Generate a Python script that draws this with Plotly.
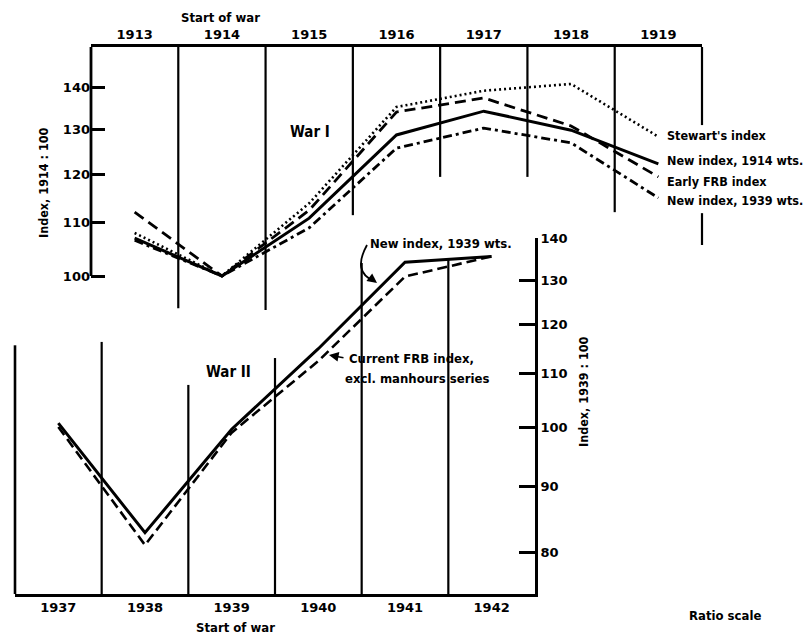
import math
import plotly.graph_objects as go

# ---------------- data ----------------
years_w1 = [1913, 1914, 1915, 1916, 1917, 1918, 1919]
stewart = [108.0, 100.0, 113.9, 135.3, 139.3, 141.0, 128.3]
new_1914_wts = [107.0, 100.0, 110.9, 128.7, 134.3, 129.8, 122.2]
early_frb = [112.1, 100.0, 112.5, 134.1, 137.5, 130.8, 119.4]
new_1939_wts_w1 = [106.6, 100.0, 109.0, 125.7, 130.3, 126.9, 115.0]

years_w2 = [1937, 1938, 1939, 1940, 1941, 1942]
new_1939_wts_w2 = [100.7, 82.8, 99.6, 115.0, 134.2, 135.6]
current_frb = [100.0, 81.0, 99.0, 112.5, 130.8, 135.6]

ticks_w1 = [100, 110, 120, 130, 140]
ticks_w2 = [80, 90, 100, 110, 120, 130, 140]

# ---------------- layout calibration (page pixels) ----------------
W, H = 809, 635
FONT = "DejaVu Sans, sans-serif"
NARROW = "Liberation Sans Narrow, DejaVu Sans Condensed, DejaVu Sans, sans-serif"


def PX(x):
    return x / W


def PY(y):
    return 1 - y / H


# War I panel: x 1912.5..1919.5 -> px 91..702 ; log y: 100 at px 276, 1287 px/decade
W1_L, W1_R, W1_T, W1_B = 91, 702, 47, 310
W1_100, W1_DEC = 276, 1287
w1_yr = [2 + (W1_100 - W1_B) / W1_DEC, 2 + (W1_100 - W1_T) / W1_DEC]
w1_xr = [1912.5, 1919.5]

# War II panel: x 1936.5..1942.5 -> px 15..535 ; log y: 100 at px 427, 1290 px/decade
W2_L, W2_R, W2_T, W2_B = 15, 535, 238, 594
W2_100, W2_DEC = 427, 1290
w2_yr = [2 + (W2_100 - W2_B) / W2_DEC, 2 + (W2_100 - W2_T) / W2_DEC]
w2_xr = [1936.5, 1942.5]


def x1p(v):
    return PX(W1_L + (v - w1_xr[0]) / (w1_xr[1] - w1_xr[0]) * (W1_R - W1_L))


def y1p(v):
    f = (math.log10(v) - w1_yr[0]) / (w1_yr[1] - w1_yr[0])
    return PY(W1_B) + f * (PY(W1_T) - PY(W1_B))


def x2p(v):
    return PX(W2_L + (v - w2_xr[0]) / (w2_xr[1] - w2_xr[0]) * (W2_R - W2_L))


def y2p(v):
    f = (math.log10(v) - w2_yr[0]) / (w2_yr[1] - w2_yr[0])
    return PY(W2_B) + f * (PY(W2_T) - PY(W2_B))


fig = go.Figure()

# War I series
fig.add_trace(go.Scatter(x=years_w1, y=stewart, mode="lines", xaxis="x", yaxis="y",
                         line=dict(color="black", width=2.6, dash="2px,3px"), name="Stewart's index"))
fig.add_trace(go.Scatter(x=years_w1, y=early_frb, mode="lines", xaxis="x", yaxis="y",
                         line=dict(color="black", width=2.8, dash="11px,6px"), name="Early FRB index"))
fig.add_trace(go.Scatter(x=years_w1, y=new_1914_wts, mode="lines", xaxis="x", yaxis="y",
                         line=dict(color="black", width=3), name="New index, 1914 wts."))
fig.add_trace(go.Scatter(x=years_w1, y=new_1939_wts_w1, mode="lines", xaxis="x", yaxis="y",
                         line=dict(color="black", width=2.8, dash="9px,4px,3px,4px"),
                         name="New index, 1939 wts."))

# War II series
fig.add_trace(go.Scatter(x=years_w2, y=new_1939_wts_w2, mode="lines", xaxis="x2", yaxis="y2",
                         line=dict(color="black", width=3), name="New index, 1939 wts."))
fig.add_trace(go.Scatter(x=years_w2, y=current_frb, mode="lines", xaxis="x2", yaxis="y2",
                         line=dict(color="black", width=2.6, dash="10px,5px"),
                         name="Current FRB index, excl. manhours series"))

shapes = []


def vline(x, y0, y1, w=2.2):
    shapes.append(dict(type="line", xref="paper", yref="paper", x0=x, x1=x, y0=y0, y1=y1,
                       line=dict(color="black", width=w)))


# War I frame
vline(x1p(1912.5), y1p(100), PY(W1_T), 2.8)  # left spine ending at 100
w1_sep_bottoms = [94.4, 94.1, 111.5, 119.4, 119.4, 112.1]
for i, b in enumerate(w1_sep_bottoms):
    vline(x1p(1913.5 + i), y1p(b), PY(W1_T))
vline(x1p(1919.5), y1p(131.0), PY(W1_T))
vline(x1p(1919.5), y1p(105.7), y1p(111.9))

# War II frame
w2_sep_tops = [115.7, 116.4, 107.8, 113.1, 134.0, 134.7]
for i, t in enumerate(w2_sep_tops):
    vline(x2p(1936.5 + i), PY(W2_B), y2p(t), 2.6 if i == 0 else 2.2)

# curved arrow for "New index, 1939 wts."
shapes.append(dict(type="path", xref="paper", yref="paper",
                   path="M {},{} Q {},{} {},{}".format(PX(367), PY(245), PX(352), PY(272), PX(374), PY(281)),
                   line=dict(color="black", width=1.8)))

ann = []
LBL = 13


def text(x, y, s, size=LBL, xanchor="center", angle=0):
    ann.append(dict(x=PX(x), y=PY(y), xref="paper", yref="paper", text=s, showarrow=False,
                    xanchor=xanchor, yanchor="middle", textangle=angle,
                    font=dict(family=NARROW, size=size, color="black", weight="bold")))


text(220, 17, "Start of war")
text(310, 132, "War I", 15)
text(228, 372, "War II", 15)
text(665, 135, "Stewart's index", 12.5, xanchor="left")
text(665, 160, "New index, 1914 wts.", 12.5, xanchor="left")
text(665, 181, "Early FRB index", 12.5, xanchor="left")
text(665, 200, "New index, 1939 wts.", 12.5, xanchor="left")
text(368, 243, "New index, 1939 wts.", xanchor="left")
text(347, 359, "Current FRB index,", xanchor="left")
text(343, 378, "excl. manhours series", xanchor="left")
text(235, 627, "Start of war")
text(725, 615, "Ratio scale")
text(43, 183, "Index, 1914 : 100", 12.5, angle=-90)
text(583, 392, "Index, 1939 : 100", 12.5, angle=-90)

# arrowheads
ann.append(dict(x=PX(377), y=PY(283), xref="paper", yref="paper", text="", showarrow=True,
                ax=-8, ay=-6, arrowhead=2, arrowsize=1.2, arrowwidth=1.6, arrowcolor="black"))
ann.append(dict(x=PX(329), y=PY(355), xref="paper", yref="paper", text="", showarrow=True,
                ax=16, ay=3, arrowhead=2, arrowsize=1.2, arrowwidth=1.6, arrowcolor="black"))

tickfont = dict(family=FONT, size=13, color="black", weight="bold")

fig.update_layout(
    width=W, height=H, margin=dict(l=0, r=0, t=0, b=0),
    paper_bgcolor="white", plot_bgcolor="rgba(0,0,0,0)",
    showlegend=False, shapes=shapes, annotations=ann,
    xaxis=dict(domain=[PX(W1_L), PX(W1_R)], range=w1_xr, anchor="y", side="top",
               showline=True, linewidth=2.6, linecolor="black", ticks="",
               tickvals=years_w1, tickfont=tickfont, showgrid=False, zeroline=False,
               automargin=False),
    yaxis=dict(domain=[PY(W1_B), PY(W1_T)], type="log", range=w1_yr, anchor="x", side="left",
               showline=False, ticks="inside", ticklen=14, tickwidth=2.6, tickcolor="black",
               tickvals=ticks_w1, ticktext=[str(v) for v in ticks_w1], tickfont=tickfont,
               showgrid=False, zeroline=False, automargin=False),
    xaxis2=dict(domain=[PX(W2_L), PX(W2_R)], range=w2_xr, anchor="y2", side="bottom",
                showline=True, linewidth=2.6, linecolor="black", ticks="",
                tickvals=years_w2, tickfont=tickfont, showgrid=False, zeroline=False,
                automargin=False),
    yaxis2=dict(domain=[PY(W2_B), PY(W2_T)], type="log", range=w2_yr, anchor="x2", side="right",
                showline=True, linewidth=2.6, linecolor="black",
                ticks="inside", ticklen=16, tickwidth=2.6, tickcolor="black",
                tickvals=ticks_w2, ticktext=[str(v) for v in ticks_w2], tickfont=tickfont,
                showgrid=False, zeroline=False, automargin=False),
)

fig.write_html("out.html", config={"displayModeBar": False},
               post_script="document.body.style.margin='0px';")
